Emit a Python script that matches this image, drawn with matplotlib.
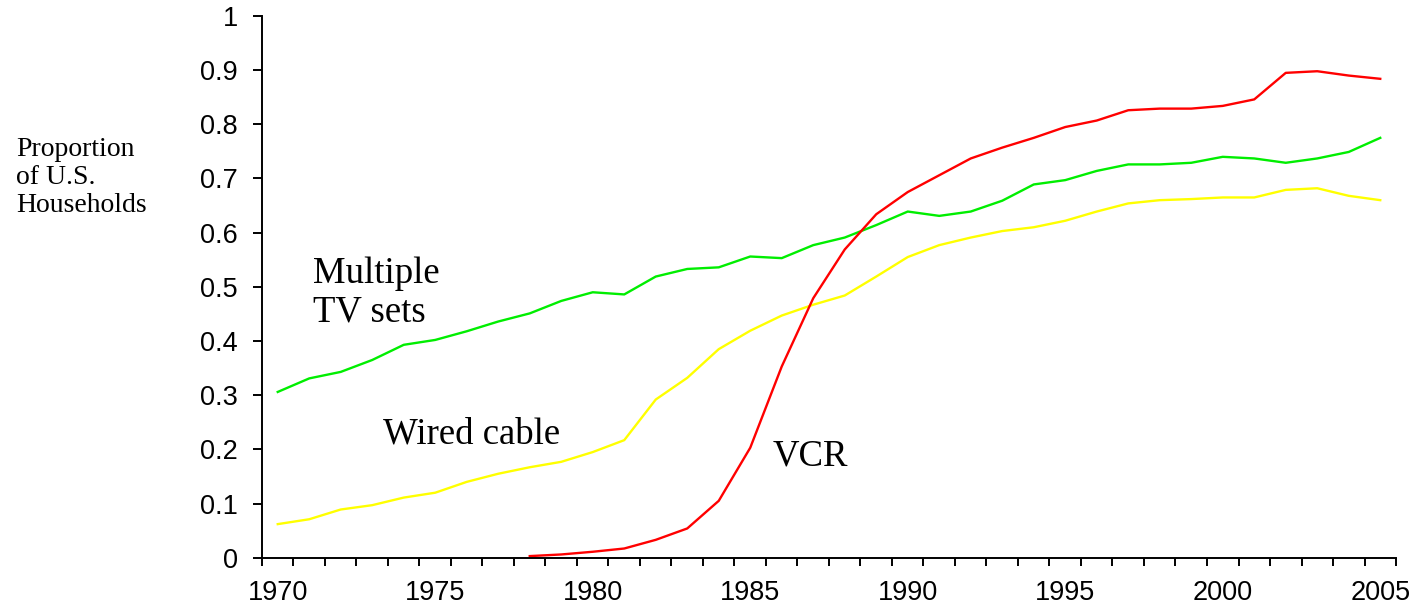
import numpy as np
import matplotlib
matplotlib.use("Agg")
import matplotlib.pyplot as plt
from matplotlib.ticker import FixedLocator

# data (proportion of U.S. households)
years = list(range(1970, 2006))

multiple_tv = [0.306, 0.331, 0.343, 0.365, 0.393, 0.402, 0.418, 0.436, 0.451, 0.474,
               0.490, 0.486, 0.519, 0.533, 0.536, 0.556, 0.553, 0.577, 0.591, 0.614,
               0.639, 0.631, 0.639, 0.659, 0.689, 0.697, 0.714, 0.726, 0.726, 0.729,
               0.740, 0.737, 0.729, 0.737, 0.749, 0.775]

wired_cable = [0.062, 0.071, 0.089, 0.097, 0.111, 0.120, 0.140, 0.155, 0.167, 0.177,
               0.195, 0.217, 0.292, 0.332, 0.385, 0.419, 0.447, 0.467, 0.484, 0.519,
               0.555, 0.577, 0.591, 0.603, 0.610, 0.622, 0.639, 0.654, 0.660, 0.662,
               0.665, 0.665, 0.679, 0.682, 0.668, 0.660]

vcr_years = list(range(1978, 2006))
vcr = [0.003, 0.006, 0.011, 0.017, 0.033, 0.054, 0.105, 0.203, 0.353, 0.479,
       0.569, 0.634, 0.675, 0.706, 0.737, 0.757, 0.775, 0.795, 0.807, 0.826,
       0.829, 0.829, 0.834, 0.846, 0.895, 0.898, 0.890, 0.884]

y_ticks = [0, 0.1, 0.2, 0.3, 0.4, 0.5, 0.6, 0.7, 0.8, 0.9, 1]
y_labels = ["0", "0.1", "0.2", "0.3", "0.4", "0.5", "0.6", "0.7", "0.8", "0.9", "1"]
x_labels = [1970, 1975, 1980, 1985, 1990, 1995, 2000, 2005]

plt.rcParams['font.family'] = ['Liberation Sans', 'DejaVu Sans']
serif = ['Liberation Serif', 'DejaVu Serif']

fig = plt.figure(figsize=(14.2, 6.12), dpi=100)
ax = fig.add_axes([0.1845, 0.0887, 0.7986, 0.8852])

ax.plot(years, multiple_tv, color='#00ee00', lw=1.7)
ax.plot(years, wired_cable, color='#ffff00', lw=1.7)
ax.plot(vcr_years, vcr, color='#ff0000', lw=1.7)

ax.set_xlim(1969.5, 2005.5)
ax.set_ylim(0, 1)

# year labels centred on categories, ticks on the boundaries
ax.set_xticks(x_labels)
ax.set_xticklabels([str(x) for x in x_labels])
ax.xaxis.set_minor_locator(FixedLocator(np.arange(1969.5, 2006, 1)))
ax.tick_params(axis='x', which='major', length=0, pad=16, labelsize=19.5)
ax.tick_params(axis='x', which='minor', length=6, width=1.4, direction='out')

ax.set_yticks(y_ticks)
ax.set_yticklabels(y_labels)
ax.tick_params(axis='y', length=6.5, width=1.4, pad=11, labelsize=19.5)

for s in ['top', 'right']:
    ax.spines[s].set_visible(False)
for s in ['left', 'bottom']:
    ax.spines[s].set_linewidth(1.4)

# series labels
ax.text(1971.12, 0.5077, "Multiple", family=serif, fontsize=26.5, va='baseline')
ax.text(1971.12, 0.4357, "TV sets", family=serif, fontsize=26.5, va='baseline')
ax.text(1973.35, 0.2112, "Wired cable", family=serif, fontsize=26.5, va='baseline')
ax.text(1985.72, 0.1693, "VCR", family=serif, fontsize=26.5, va='baseline')

# axis title on the left
fig.text(0.0113, 0.745, "Proportion", family=serif, fontsize=20, va='baseline')
fig.text(0.0113, 0.699, "of U.S.", family=serif, fontsize=20, va='baseline')
fig.text(0.0113, 0.654, "Households", family=serif, fontsize=20, va='baseline')

fig.savefig("out.png", dpi=100)
